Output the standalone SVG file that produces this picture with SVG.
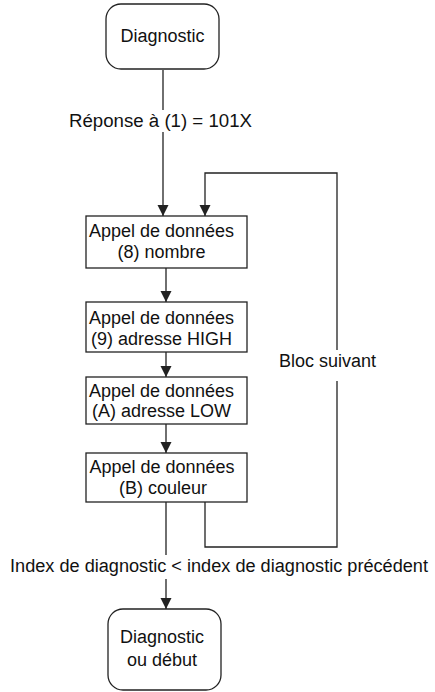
<svg xmlns="http://www.w3.org/2000/svg" width="435" height="692" viewBox="0 0 435 692">
  <style>
    .box { fill: #ffffff; stroke: #222222; stroke-width: 1.3; }
    .wire { fill: none; stroke: #222222; stroke-width: 1.3; }
    text { font-family: "Liberation Sans", Arial, sans-serif; font-size: 18px; fill: #111111; }
    .c { text-anchor: middle; }
  </style>
  <defs>
    <marker id="tip" markerWidth="12" markerHeight="12" refX="11" refY="6" orient="auto" markerUnits="userSpaceOnUse" viewBox="0 0 12 12">
      <path d="M0,0.5 L11,6 L0,11.5 Z" fill="#222222"/>
    </marker>
  </defs>

  <!-- connectors -->
  <g id="connectors">
    <!-- start to first data call, broken around the condition label -->
    <line class="wire" x1="163" y1="70" x2="163" y2="110"/>
    <line class="wire" x1="163" y1="132" x2="163" y2="216" marker-end="url(#tip)"/>
    <!-- chain between data calls -->
    <line class="wire" x1="166" y1="268" x2="166" y2="302" marker-end="url(#tip)"/>
    <line class="wire" x1="166" y1="352" x2="166" y2="377" marker-end="url(#tip)"/>
    <line class="wire" x1="166" y1="424" x2="166" y2="453" marker-end="url(#tip)"/>
    <!-- exit to end, broken around the exit condition -->
    <line class="wire" x1="166" y1="502" x2="166" y2="555"/>
    <line class="wire" x1="166" y1="579" x2="166" y2="609" marker-end="url(#tip)"/>
    <!-- loop back: next block -->
    <polyline class="wire" points="205,502 205,547 337,547 337,381"/>
    <polyline class="wire" points="337,350 337,173 205,173 205,216" marker-end="url(#tip)"/>
    <text x="376" y="367" text-anchor="end">Bloc suivant</text>
    <text x="69" y="127" textLength="183" lengthAdjust="spacingAndGlyphs">Réponse à (1) = 101X</text>
    <text x="10" y="572" textLength="418" lengthAdjust="spacingAndGlyphs">Index de diagnostic &lt; index de diagnostic précédent</text>
  </g>

  <g id="start">
    <rect class="box" x="106" y="4" width="113" height="65" rx="15"/>
    <text class="c" x="162.5" y="42">Diagnostic</text>
  </g>

  <g id="call8">
    <rect class="box" x="86" y="216" width="161" height="52"/>
    <text class="c" x="161.5" y="237">Appel de données</text>
    <text class="c" x="161.5" y="258">(8) nombre</text>
  </g>

  <g id="call9">
    <rect class="box" x="86" y="302" width="161" height="50"/>
    <text class="c" x="161.5" y="324">Appel de données</text>
    <text class="c" x="161.5" y="345">(9) adresse HIGH</text>
  </g>

  <g id="callA">
    <rect class="box" x="86" y="377" width="161" height="47"/>
    <text class="c" x="161.5" y="397">Appel de données</text>
    <text class="c" x="161.5" y="417">(A) adresse LOW</text>
  </g>

  <g id="callB">
    <rect class="box" x="86" y="453" width="161" height="49"/>
    <text class="c" x="162" y="473">Appel de données</text>
    <text class="c" x="163" y="494">(B) couleur</text>
  </g>

  <g id="end">
    <rect class="box" x="108" y="609" width="113" height="81" rx="15"/>
    <text class="c" x="162" y="643">Diagnostic</text>
    <text class="c" x="162" y="666">ou début</text>
  </g>
</svg>
